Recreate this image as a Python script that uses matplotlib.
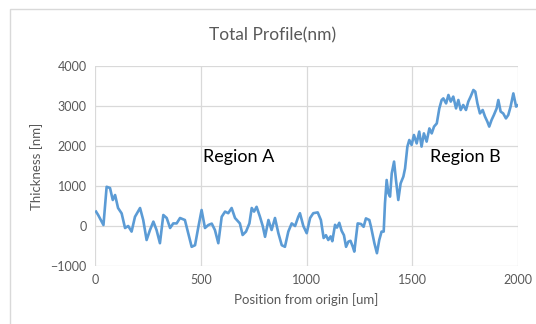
import matplotlib
matplotlib.use("Agg")
import matplotlib.pyplot as plt
from matplotlib.patches import Rectangle

# profile (position in um, thickness in nm)
position = [5, 15, 40, 55, 71, 84, 95, 109, 126, 142, 157, 173, 189, 213, 228,
            244, 260, 276, 291, 307, 323, 339, 355, 370, 386, 402, 425, 441, 457,
            473, 489, 504, 520, 536, 552, 567, 583, 599, 615, 630, 646, 662, 685,
            698, 714, 730, 741, 752, 764, 780, 793, 804, 820, 835, 851, 867, 883,
            898, 914, 930, 946, 961, 969, 985, 1001, 1017, 1032, 1053, 1068, 1081,
            1092, 1103, 1114, 1122, 1135, 1144, 1155, 1166, 1177, 1187, 1198, 1208,
            1219, 1226, 1242, 1258, 1270, 1281, 1297, 1305, 1321, 1333, 1344, 1355,
            1365, 1371, 1379, 1387, 1395, 1403, 1414, 1423, 1434, 1445, 1458, 1466,
            1477, 1486, 1497, 1508, 1521, 1533, 1544, 1555, 1568, 1581, 1592, 1603,
            1616, 1628, 1639, 1647, 1660, 1671, 1682, 1694, 1707, 1718, 1729, 1741,
            1754, 1765, 1776, 1789, 1798, 1808, 1820, 1833, 1844, 1855, 1864, 1875,
            1886, 1899, 1907, 1918, 1930, 1943, 1954, 1965, 1978, 1991, 2001]
thickness = [360, 275, 25, 980, 950, 650, 775, 450, 315, -50, 0, -140, 230, 450, 150,
             -350, -100, 110, -100, -430, 275, 200, -50, 65, 65, 200, 150, -180, -520,
             -480, -15, 400, -50, 25, 60, -100, -430, 230, 360, 320, 450, 200, 65,
             -225, -140, 65, 450, 360, 480, 230, 0, -270, 150, -100, 200, -180, -480,
             -520, -140, 65, 0, 230, 320, 0, -180, 200, 320, 340, 150, -300,
             -230, -350, -260, -380, 30, -40, 80, -120, -230, -520, -390, -370,
             -520, -640, 65, 50, -20, 190, 150, -20, -430, -680, -350, -140,
             -140, 565, 1150, 820, 735, 1315, 1610, 1150, 650, 1065, 1235, 1440,
             1985, 2150, 2025, 2275, 2065, 2360, 1985, 2315, 2110, 2440, 2315, 2485,
             2565, 2940, 3150, 3190, 3065, 3275, 3110, 3235, 2940, 3150, 2900, 3025,
             2900, 3110, 3235, 3400, 3360, 3065, 2815, 2900, 2735, 2610, 2485, 2650,
             2775, 2940, 3150, 2860, 2815, 2690, 2775, 2985, 3315, 2985, 3025]

x_ticks = [0, 500, 1000, 1500, 2000]
y_ticks = [-1000, 0, 1000, 2000, 3000, 4000]

plt.rcParams['font.family'] = ['Lato', 'DejaVu Sans']
grey = '#595959'

fig = plt.figure(figsize=(5.36, 3.24), dpi=100)
ax = fig.add_axes([95 / 536, 1 - 266 / 324, 423 / 536, 200 / 324])

# chart area border like the spreadsheet export
fig.patches.append(Rectangle((10 / 536, -0.05), 1.0, 1 - 9 / 324 + 0.05,
                             transform=fig.transFigure, fill=False,
                             edgecolor='#d9d9d9', linewidth=1.0))

ax.plot(position, thickness, color='#5B9BD5', linewidth=1.9)

ax.set_xlim(0, 2000)
ax.set_ylim(-1000, 4000)
ax.set_xticks(x_ticks)
ax.set_yticks(y_ticks)
ax.grid(True, color='#d9d9d9', linewidth=0.9)
ax.set_axisbelow(True)
for s in ax.spines.values():
    s.set_visible(False)
ax.tick_params(length=0, labelsize=9, labelcolor=grey, pad=6)

ax.set_xlabel('Position from origin [um]', fontsize=9.5, color=grey, labelpad=5)
ax.set_ylabel('Thickness [nm]', fontsize=9.5, color=grey, labelpad=5)
fig.text(273 / 536, 1 - 35 / 324, 'Total Profile(nm)', ha='center', va='center',
         fontsize=12.5, color=grey)

ax.text(510, 1725, 'Region A', fontsize=13, color='black', va='center')
ax.text(1584, 1725, 'Region B', fontsize=13, color='black', va='center')

fig.savefig('out.png', dpi=100)
